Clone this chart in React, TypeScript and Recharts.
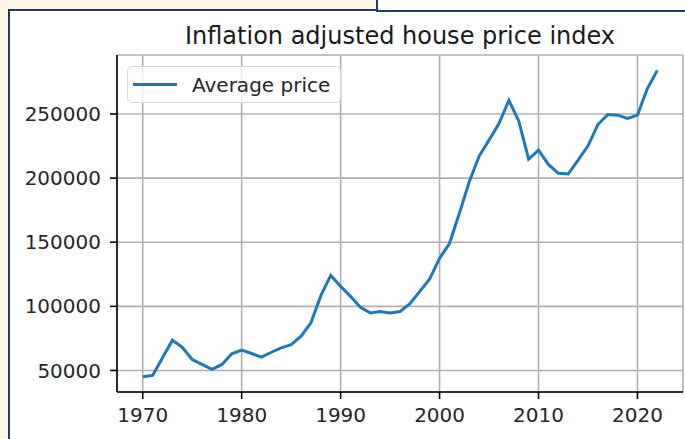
import { LineChart, Line, XAxis, YAxis, CartesianGrid, Legend } from "recharts";

const YEARS = [
    1970, 1971, 1972, 1973, 1974, 1975, 1976, 1977, 1978, 1979,
    1980, 1981, 1982, 1983, 1984, 1985, 1986, 1987, 1988, 1989,
    1990, 1991, 1992, 1993, 1994, 1995, 1996, 1997, 1998, 1999,
    2000, 2001, 2002, 2003, 2004, 2005, 2006, 2007, 2008, 2009,
    2010, 2011, 2012, 2013, 2014, 2015, 2016, 2017, 2018, 2019,
    2020, 2021, 2022,
];

const AVERAGE_PRICE = [
    45100, 46100, 59900, 73600, 68100, 58500, 54700, 50800, 54700, 63000,
    65800, 63200, 60400, 64200, 67600, 70200, 76700, 87100, 108300, 124100,
    115600, 107800, 99200, 94900, 95900, 94900, 95900, 102100, 111700, 121300,
    137600, 149000, 172600, 197200, 217200, 229600, 242600, 260700, 244600, 214800,
    221800, 210700, 203700, 203200, 214100, 225200, 241800, 249600, 249100, 246500,
    249100, 269800, 284000,
];

const X_TICKS = [1970, 1980, 1990, 2000, 2010, 2020];
const Y_TICKS = [50000, 100000, 150000, 200000, 250000];

const TITLE = "Inflation adjusted house price index";
const SERIES_LABEL = "Average price";

const FONT = "'DejaVu Sans', sans-serif";
const LINE_COLOR = "#1f77b4";
const NAVY = "#22396a";
const BEIGE = "#fdf5e6";

const data = YEARS.map((year, i) => ({ year, price: AVERAGE_PRICE[i] }));

const tickStyle = { fontSize: 20, fill: "#262626", fontFamily: FONT };

function LegendBox() {
    return (
        <div
            style={{
                boxSizing: "border-box",
                width: 214,
                height: 37,
                display: "flex",
                alignItems: "center",
                border: "1.6px solid #d6d6d6",
                borderRadius: 5,
                background: "rgba(255,255,255,0.8)",
                fontFamily: FONT,
                fontSize: 20,
                color: "#262626",
            }}
        >
            <span style={{ display: "inline-block", width: 44, height: 3, marginLeft: 5, background: LINE_COLOR }} />
            <span style={{ marginLeft: 15, lineHeight: "20px" }}>{SERIES_LABEL}</span>
        </div>
    );
}

export default function App() {
    return (
        <div style={{ position: "absolute", left: 0, top: 0, width: 685, height: 439, background: "#fff", overflow: "hidden" }}>
            {/* screenshot frame */}
            <div style={{ position: "absolute", left: 0, top: 0, width: 8, height: 439, background: BEIGE }} />
            <div style={{ position: "absolute", left: 0, top: 0, width: 376, height: 9, background: BEIGE }} />
            <div style={{ position: "absolute", left: 8, top: 9, width: 2, height: 430, background: NAVY }} />
            <div style={{ position: "absolute", left: 8, top: 9, width: 370, height: 2, background: NAVY }} />
            <div style={{ position: "absolute", left: 376, top: 0, width: 2, height: 12, background: NAVY }} />
            <div style={{ position: "absolute", left: 376, top: 10, width: 309, height: 2, background: NAVY }} />

            <div
                style={{
                    position: "absolute",
                    left: 117,
                    top: 24,
                    width: 566,
                    textAlign: "center",
                    fontFamily: FONT,
                    fontSize: 24,
                    lineHeight: "24px",
                    color: "#1a1a1a",
                    whiteSpace: "nowrap",
                }}
            >
                {TITLE}
            </div>

            <div style={{ position: "absolute", left: 0, top: 0 }}>
                <LineChart width={685} height={439} data={data} margin={{ top: 55, right: 2, bottom: 0, left: 0 }}>
                    <CartesianGrid stroke="#b0b0b0" strokeWidth={1.6} />
                    <XAxis
                        dataKey="year"
                        type="number"
                        domain={[1967.4, 2024.6]}
                        ticks={X_TICKS}
                        height={47}
                        tick={tickStyle}
                        tickSize={7}
                        tickMargin={9}
                        tickLine={{ stroke: "#000", strokeWidth: 1.6 }}
                        axisLine={{ stroke: "#000", strokeWidth: 1.6 }}
                        allowDataOverflow
                    />
                    <XAxis
                        xAxisId="top"
                        orientation="top"
                        dataKey="year"
                        type="number"
                        domain={[1967.4, 2024.6]}
                        height={0}
                        tick={false}
                        tickLine={false}
                        axisLine={{ stroke: "#000", strokeWidth: 1.6 }}
                        allowDataOverflow
                    />
                    <YAxis
                        type="number"
                        domain={[33200, 296000]}
                        ticks={Y_TICKS}
                        width={117}
                        tick={tickStyle}
                        tickSize={7}
                        tickMargin={9}
                        tickLine={{ stroke: "#000", strokeWidth: 1.6 }}
                        axisLine={{ stroke: "#000", strokeWidth: 1.6 }}
                        tickFormatter={(v: number) => String(v)}
                        allowDataOverflow
                    />
                    <YAxis
                        yAxisId="right"
                        orientation="right"
                        type="number"
                        domain={[33200, 296000]}
                        width={0}
                        tick={false}
                        tickLine={false}
                        axisLine={{ stroke: "#000", strokeWidth: 1.6 }}
                        allowDataOverflow
                    />
                    <Legend
                        layout="horizontal"
                        verticalAlign="middle"
                        align="center"
                        wrapperStyle={{ position: "absolute", left: 127, top: 66, width: 214, height: 37 }}
                        content={() => <LegendBox />}
                    />
                    <Line
                        type="linear"
                        dataKey="price"
                        name={SERIES_LABEL}
                        stroke={LINE_COLOR}
                        strokeWidth={3}
                        dot={false}
                        isAnimationActive={false}
                    />
                </LineChart>
            </div>
        </div>
    );
}
